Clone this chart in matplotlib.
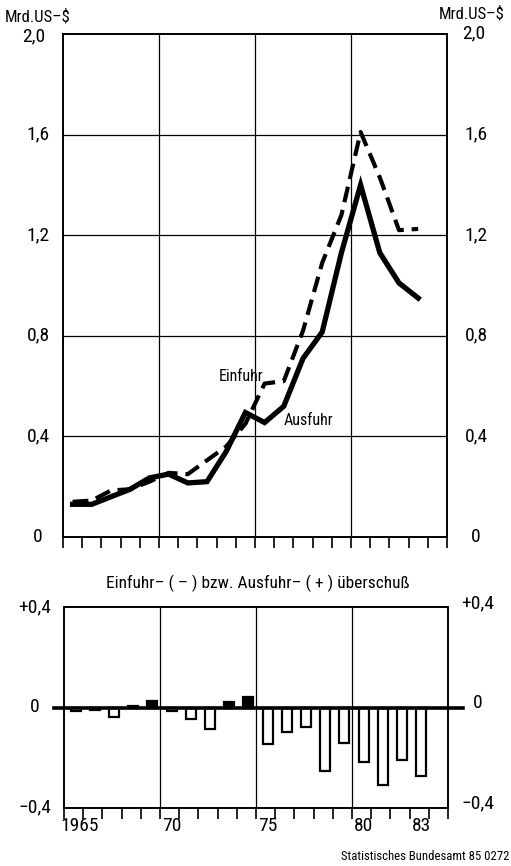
"""
Einfuhr / Ausfuhr 1965-1983 in Mrd. US-$ mit Überschuss-Balken
"""
import matplotlib
matplotlib.use("Agg")
import matplotlib.pyplot as plt
import numpy as np

plt.rcParams['font.family'] = ['Roboto Condensed', 'PT Sans Narrow',
                               'Archivo Narrow', 'DejaVu Sans']

# Daten
years = np.arange(1965, 1984)
ausfuhr = [0.13, 0.13, 0.16, 0.19, 0.235, 0.25, 0.215, 0.22, 0.34, 0.495,
           0.455, 0.52, 0.71, 0.815, 1.13, 1.40, 1.13, 1.01, 0.95]
einfuhr = [0.14, 0.145, 0.185, 0.19, 0.22, 0.255, 0.25, 0.305, 0.36, 0.45,
           0.61, 0.62, 0.82, 1.09, 1.28, 1.61, 1.43, 1.22, 1.225]
saldo = [-0.015, -0.01, -0.036, 0.005, 0.024, -0.015, -0.047, -0.087, 0.02, 0.043,
         -0.147, -0.096, -0.076, -0.253, -0.14, -0.217, -0.307, -0.207, -0.273]

top_ticks = [0, 0.4, 0.8, 1.2, 1.6]
top_labels = ['0', '0,4', '0,8', '1,2', '1,6']
bot_ticks = [0.4, 0, -0.4]
bot_labels = ['+0,4', '0', '\u22120,4']
year_ticks = [1965, 1970, 1975, 1980, 1983]
year_labels = ['1965', '70', '75', '80', '83']

W, H = 511, 866
fig = plt.figure(figsize=(W / 100, H / 100), dpi=100)
fig.patch.set_facecolor('white')


def px_axes(l, t, r, b):
    return fig.add_axes([l / W, 1 - b / H, (r - l) / W, (b - t) / H])


def frame(ax):
    for s in ax.spines.values():
        s.set_linewidth(1.4)
        s.set_color('black')
    ax.set_xlim(1965, 1985)
    ax.set_xticks(np.arange(1965, 1986))
    ax.tick_params(axis='x', direction='out', length=8, width=1.2,
                   labelbottom=False)
    ax.set_yticks([])
    for x in (1970, 1975, 1980):
        ax.axvline(x, color='black', lw=0.9)


# --- oberes Diagramm ---
ax = px_axes(63, 34, 447, 537)
frame(ax)
ax.set_ylim(0, 2.0)
for y in top_ticks[1:]:
    ax.axhline(y, color='black', lw=0.9)

xm = years + 0.5
ax.plot(xm, einfuhr, color='black', lw=3.0, dashes=(3.8, 1.9),
        solid_capstyle='butt', dash_capstyle='butt')
ax.plot(xm, ausfuhr, color='black', lw=3.8, solid_joinstyle='miter')

ax.text(1974.3, 0.64, 'Einfuhr', fontsize=11.5, ha='center', va='center')
ax.text(1977.8, 0.465, 'Ausfuhr', fontsize=11.5, ha='center', va='center')

for y, lab in zip(top_ticks, top_labels):
    yp = 537 - y * 251.5
    fig.text(38 / W, 1 - yp / H, lab, fontsize=14, ha='center', va='center')
    fig.text(476 / W, 1 - yp / H, lab, fontsize=14, ha='center', va='center')
fig.text(34 / W, 1 - 36 / H, '2,0', fontsize=14, ha='center', va='center')
fig.text(474 / W, 1 - 33 / H, '2,0', fontsize=14, ha='center', va='center')
fig.text(38 / W, 1 - 17 / H, 'Mrd.US\u2013$', fontsize=12, ha='center', va='center')
fig.text(472 / W, 1 - 14 / H, 'Mrd.US\u2013$', fontsize=12, ha='center', va='center')

# --- unteres Diagramm ---
bx = px_axes(64, 607, 448, 808)
frame(bx)
bx.set_ylim(-0.4, 0.4)
bx.axhline(0, xmin=-0.025, xmax=1.04, color='black', lw=2.6, clip_on=False,
           zorder=3)

xb = years + 0.6
pos = [v if v > 0 else 0 for v in saldo]
neg = [v if v < 0 else 0 for v in saldo]
bx.bar(xb, neg, width=0.52, facecolor='white', edgecolor='black', lw=1.6,
       zorder=2)
bx.bar(xb, pos, width=0.52, facecolor='black', edgecolor='black', lw=1.6,
       zorder=2)

for y, lab in zip(bot_ticks, bot_labels):
    yp = 707 - y * 250
    fig.text(35 / W, 1 - yp / H, lab, fontsize=14, ha='center', va='center')
    fig.text(478 / W, 1 - (yp - 4) / H, lab, fontsize=14, ha='center', va='center')

for yr, lab in zip(year_ticks, year_labels):
    xpos = yr + (0.8 if yr == 1965 else 0.6)
    bx.text(xpos, -0.47, lab, fontsize=14, ha='center', va='center')

fig.text(258 / W, 1 - 583 / H,
         'Einfuhr\u2013 ( \u2013 ) bzw. Ausfuhr\u2013 ( + ) überschuß',
         fontsize=12.5, ha='center', va='center')
fig.text(509 / W, 1 - 856 / H, 'Statistisches Bundesamt 85 0272',
         fontsize=9.2, ha='right', va='center')

fig.savefig('out.png', dpi=100, facecolor='white')
